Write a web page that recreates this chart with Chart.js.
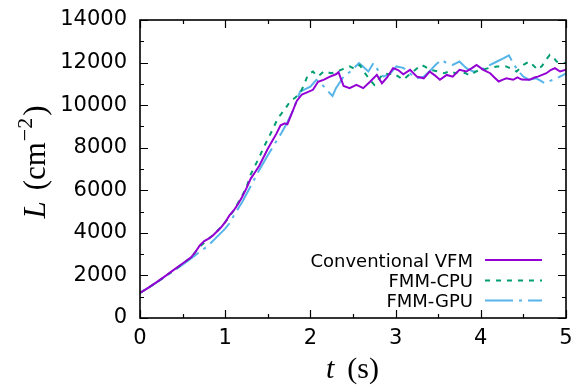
<!DOCTYPE html>
<html>
<head>
<meta charset="utf-8">
<script src="https://cdn.jsdelivr.net/npm/chart.js@4.4.0/dist/chart.umd.min.js"></script>
<style>
  html, body { margin: 0; padding: 0; background: #fff; }
</style>
</head>
<body>
<canvas id="chart" width="572" height="387"></canvas>
<script>
// Series: time (s) and L (cm^-2)
const seriesNames = ['Conventional VFM', 'FMM-CPU', 'FMM-GPU'];

const tVfm = [0, 0.1, 0.2, 0.3, 0.4, 0.5, 0.6, 0.65, 0.7, 0.75, 0.8, 0.85, 0.9, 0.95, 1.0, 1.05, 1.1, 1.15, 1.2, 1.25,
  1.3, 1.35, 1.4, 1.45, 1.5, 1.55, 1.6, 1.65, 1.7, 1.73, 1.78, 1.84, 1.9, 1.96, 2.03, 2.09, 2.16, 2.23, 2.3, 2.33,
  2.39, 2.46, 2.54, 2.62, 2.7, 2.78, 2.84, 2.9, 2.97, 3.03, 3.09, 3.17, 3.25, 3.33, 3.4, 3.46, 3.52, 3.6, 3.67, 3.75,
  3.83, 3.9, 3.95, 4.03, 4.11, 4.16, 4.21, 4.26, 4.3, 4.38, 4.43, 4.48, 4.57, 4.63, 4.67, 4.72, 4.77, 4.82, 4.87, 4.93, 5.0];
const lVfm = [1180, 1430, 1700, 1980, 2270, 2560, 2850, 3100, 3400, 3600, 3720, 3850, 4050, 4250, 4500, 4820, 5050, 5350, 5700, 6100,
  6550, 6850, 7150, 7550, 7950, 8300, 8650, 9050, 9150, 9100, 9600, 10200, 10500, 10600, 10720, 11100, 11200, 11340, 11450, 11550,
  10900, 10800, 10950, 10800, 11100, 11420, 11030, 11300, 11740, 11650, 11450, 11660, 11340, 11260, 11580, 11400, 11190, 11420, 11340, 11660,
  11580, 11750, 11890, 11660, 11500, 11300, 11110, 11200, 11260, 11190, 11300, 11200, 11190, 11300, 11340, 11420, 11500, 11650, 11740, 11580, 11660];

const tCpu = [0, 0.1, 0.2, 0.3, 0.4, 0.5, 0.6, 0.7, 0.8, 0.9, 1.0, 1.1, 1.2, 1.25, 1.3, 1.4, 1.45, 1.5, 1.55, 1.62,
  1.7, 1.76, 1.82, 1.88, 1.93, 1.97, 2.03, 2.08, 2.11, 2.16, 2.24, 2.3, 2.36, 2.46, 2.52, 2.58, 2.64, 2.7, 2.75, 2.8,
  2.86, 2.92, 2.97, 3.03, 3.09, 3.15, 3.21, 3.3, 3.35, 3.4, 3.5, 3.57, 3.64, 3.7, 3.75, 3.82, 3.87, 3.93, 3.99, 4.05,
  4.09, 4.19, 4.25, 4.3, 4.36, 4.42, 4.5, 4.57, 4.62, 4.67, 4.72, 4.75, 4.81, 4.85, 4.89, 4.97, 5.0];
const lCpu = [1180, 1430, 1690, 1970, 2250, 2540, 2850, 3350, 3700, 4050, 4500, 5050, 5750, 6150, 6750, 7550, 8000, 8400, 8800, 9400,
  9800, 10170, 10350, 10570, 11000, 11420, 11580, 11350, 11420, 11600, 11500, 11550, 11660, 11820, 11700, 11890, 11500, 11190, 10950, 11200,
  11500, 11450, 11500, 11350, 11190, 11400, 11580, 11890, 11800, 11660, 11580, 11500, 11600, 11500, 11580, 11500, 11400, 11550, 11660, 11700,
  11740, 11820, 11800, 11820, 11700, 11580, 11890, 12050, 11850, 11660, 11850, 12050, 12360, 12250, 12050, 11970, 12000];

const tGpu = [0, 0.1, 0.2, 0.3, 0.4, 0.5, 0.6, 0.7, 0.8, 0.9, 1.0, 1.05, 1.1, 1.2, 1.3, 1.39, 1.5, 1.6, 1.66, 1.73,
  1.8, 1.84, 1.88, 1.94, 2.0, 2.07, 2.13, 2.19, 2.26, 2.3, 2.39, 2.47, 2.57, 2.62, 2.68, 2.74, 2.8, 2.86, 2.94, 3.01,
  3.09, 3.19, 3.25, 3.33, 3.4, 3.47, 3.54, 3.6, 3.67, 3.75, 3.83, 3.91, 3.97, 4.04, 4.11, 4.19, 4.27, 4.33, 4.38, 4.44,
  4.5, 4.57, 4.65, 4.7, 4.75, 4.82, 4.89, 4.97, 5.0];
const lGpu = [1180, 1420, 1680, 1950, 2230, 2500, 2800, 3100, 3400, 3800, 4200, 4450, 4800, 5450, 6200, 6880, 7650, 8300, 8690, 9200,
  9780, 10250, 10640, 10750, 10870, 11190, 11000, 10720, 10430, 10800, 11340, 11580, 11970, 11800, 11580, 11970, 11600, 11340, 11500, 11820,
  11750, 11420, 11260, 11340, 11600, 11900, 12130, 11970, 11890, 12050, 11740, 11580, 11600, 11750, 11890, 12050, 12210, 12340, 11970, 11600,
  11340, 11190, 11260, 11150, 11030, 11150, 11260, 11420, 11500];

const toPoints = (ts, ls) => ts.map((t, i) => ({ x: t, y: ls[i] }));

const serif = '"Liberation Serif", "DejaVu Serif", serif';
const sans = '"DejaVu Sans", "Liberation Sans", sans-serif';

// frame + gnuplot style inward ticks on all four sides
const framePlugin = {
  id: 'frame',
  afterDraw(chart) {
    const { ctx, chartArea: a, scales } = chart;
    ctx.save();
    ctx.strokeStyle = '#000';
    ctx.lineWidth = 1.2;
    ctx.beginPath();
    for (let t = 0; t <= 5.001; t += 0.5) {
      const x = Math.round(scales.x.getPixelForValue(t)) + 0.5;
      const len = Math.abs(t - Math.round(t)) < 1e-6 ? 8 : 4;
      ctx.moveTo(x, a.bottom); ctx.lineTo(x, a.bottom - len);
      ctx.moveTo(x, a.top); ctx.lineTo(x, a.top + len);
    }
    for (let v = 0; v <= 14000; v += 1000) {
      const y = Math.round(scales.y.getPixelForValue(v)) + 0.5;
      const len = v % 2000 === 0 ? 8 : 4;
      ctx.moveTo(a.left, y); ctx.lineTo(a.left + len, y);
      ctx.moveTo(a.right, y); ctx.lineTo(a.right - len, y);
    }
    ctx.stroke();
    ctx.lineWidth = 1.6;
    ctx.strokeRect(a.left, a.top, a.right - a.left, a.bottom - a.top);
    ctx.restore();
  }
};

// legend: text right aligned, line sample on the right
const legendPlugin = {
  id: 'sideLegend',
  afterDraw(chart) {
    const ctx = chart.ctx;
    const rows = [260, 280.5, 300.5];
    ctx.save();
    ctx.font = '18px ' + sans;
    ctx.fillStyle = '#000';
    ctx.textAlign = 'right';
    chart.data.datasets.forEach((ds, i) => {
      const y = rows[i];
      ctx.fillText(ds.label, 473, y + 6.5);
      ctx.strokeStyle = ds.borderColor;
      ctx.lineWidth = ds.borderWidth;
      ctx.setLineDash(ds.borderDash || []);
      ctx.beginPath();
      ctx.moveTo(485, y);
      ctx.lineTo(542, y);
      ctx.stroke();
    });
    ctx.restore();
  }
};

// draw a run of text pieces (font, text, raise) starting at x, baseline 0
function drawPieces(ctx, pieces, startX) {
  let x = startX;
  pieces.forEach(p => {
    ctx.font = p.font;
    x += p.gap || 0;
    ctx.fillText(p.text, x, -(p.raise || 0));
    x += ctx.measureText(p.text).width;
  });
}
function piecesWidth(ctx, pieces) {
  let w = 0;
  pieces.forEach(p => { ctx.font = p.font; w += (p.gap || 0) + ctx.measureText(p.text).width; });
  return w;
}

const titlePlugin = {
  id: 'axisTitles',
  afterDraw(chart) {
    const ctx = chart.ctx;
    ctx.save();
    ctx.fillStyle = '#000';
    ctx.textAlign = 'left';
    ctx.textBaseline = 'alphabetic';

    const xt = [
      { text: 't', font: 'italic 30px ' + serif },
      { text: '(s)', font: '30px ' + serif, gap: 13 }
    ];
    ctx.save();
    ctx.translate(0, 378);
    drawPieces(ctx, xt, 352.5 - piecesWidth(ctx, xt) / 2);
    ctx.restore();

    const yt = [
      { text: 'L', font: 'italic 31px ' + serif },
      { text: '(cm', font: '31px ' + serif, gap: 11 },
      { text: '\u2212', font: '22px ' + serif, raise: 13, gap: 1 },
      { text: '2', font: '22px ' + serif, raise: 13 },
      { text: ')', font: '31px ' + serif, gap: 2 }
    ];
    ctx.save();
    ctx.translate(45, 162);
    ctx.rotate(-Math.PI / 2);
    drawPieces(ctx, yt, -piecesWidth(ctx, yt) / 2);
    ctx.restore();
    ctx.restore();
  }
};

new Chart(document.getElementById('chart'), {
  type: 'line',
  data: {
    datasets: [
      { label: seriesNames[0], data: toPoints(tVfm, lVfm), borderColor: '#9400d3', borderWidth: 2 },
      { label: seriesNames[1], data: toPoints(tCpu, lCpu), borderColor: '#009e73', borderWidth: 2, borderDash: [5, 6] },
      { label: seriesNames[2], data: toPoints(tGpu, lGpu), borderColor: '#56b4e9', borderWidth: 2, borderDash: [28, 6, 3, 6] }
    ]
  },
  options: {
    responsive: false,
    animation: false,
    layout: { padding: { top: 20, right: 6, left: 0, bottom: 0 } },
    elements: { point: { radius: 0 }, line: { tension: 0, fill: false } },
    plugins: { legend: { display: false }, tooltip: { enabled: false } },
    scales: {
      x: {
        type: 'linear', min: 0, max: 5,
        grid: { display: false, drawTicks: false },
        border: { display: false },
        ticks: { stepSize: 1, padding: 8, maxRotation: 0, color: '#000', font: { family: sans, size: 21 },
                 callback: v => String(v) },
        afterFit: s => { s.height = 69; s.paddingRight = 0; s.paddingLeft = 0; }
      },
      y: {
        min: 0, max: 14000,
        grid: { display: false, drawTicks: false },
        border: { display: false },
        ticks: { stepSize: 2000, padding: 13, color: '#000', font: { family: sans, size: 21 },
                 callback: v => String(v) },
        afterFit: s => { s.width = 140; s.paddingTop = 0; s.paddingBottom = 0; }
      }
    }
  },
  plugins: [framePlugin, legendPlugin, titlePlugin]
});
</script>
</body>
</html>
